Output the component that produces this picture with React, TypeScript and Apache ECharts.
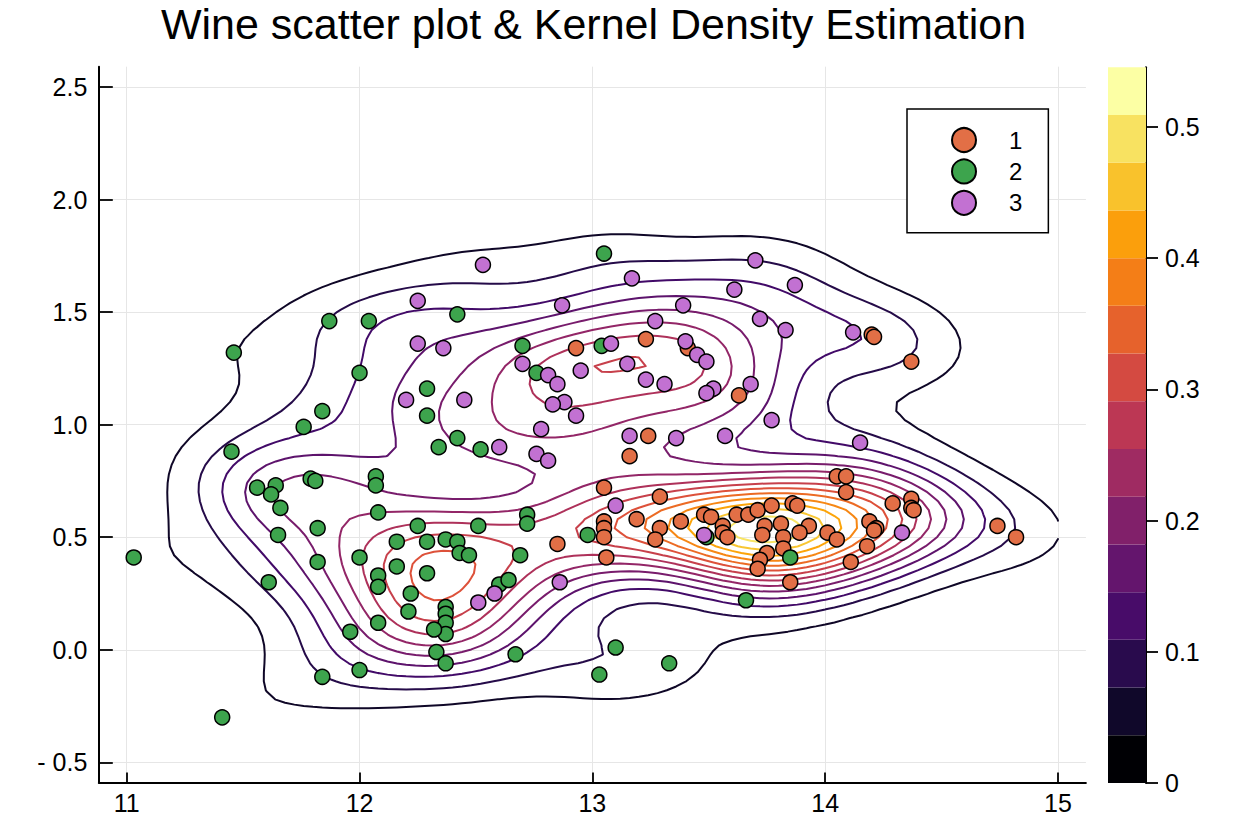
import React, { useEffect, useRef } from "react";
import * as echarts from "echarts";

// Alcohol vs log(malic acid) for the three wine cultivars
const cultivar1: [number, number][] = [
  [12.93, 1.34], [13.23, 1.38], [13.41, 1.34], [13.63, 1.13], [13.24, 0.95], [13.16, 0.86],
  [14.05, 0.77], [14.09, 0.77], [14.09, 0.70], [13.05, 0.72], [13.29, 0.68], [13.19, 0.58],
  [13.05, 0.57], [13.05, 0.54], [13.05, 0.50], [12.85, 0.47], [13.06, 0.41], [13.29, 0.54],
  [13.27, 0.49], [13.38, 0.57], [13.48, 0.60], [13.51, 0.59], [13.56, 0.55], [13.56, 0.52],
  [13.58, 0.50], [13.62, 0.60], [13.67, 0.60], [13.71, 0.62], [13.77, 0.64], [13.86, 0.65],
  [13.88, 0.64], [13.74, 0.55], [13.73, 0.51], [13.81, 0.56], [13.93, 0.55], [13.89, 0.52],
  [13.82, 0.50], [14.01, 0.52], [14.05, 0.49], [13.82, 0.45], [13.75, 0.43], [13.72, 0.40],
  [13.71, 0.36], [13.85, 0.30], [14.11, 0.39], [14.29, 0.65], [14.37, 0.67], [14.37, 0.63],
  [14.38, 0.62], [14.19, 0.57], [14.22, 0.54], [14.21, 0.53], [14.18, 0.46], [14.74, 0.55],
  [14.82, 0.50], [14.20, 1.40], [14.21, 1.39], [14.37, 1.28],
];

const cultivar2: [number, number][] = [
  [11.87, 1.46], [12.04, 1.46], [11.46, 1.32], [12.00, 1.23], [11.84, 1.06], [11.76, 0.99],
  [11.45, 0.88], [11.79, 0.76], [11.81, 0.75], [12.07, 0.77], [12.07, 0.73], [11.56, 0.72],
  [11.64, 0.73], [11.62, 0.69], [11.66, 0.63], [11.82, 0.54], [12.08, 0.61], [11.65, 0.51],
  [12.16, 0.48], [11.03, 0.41], [12.00, 0.41], [11.82, 0.39], [12.16, 0.37], [12.08, 0.33],
  [12.08, 0.28], [11.61, 0.30], [12.08, 0.12], [11.96, 0.08], [12.00, -0.09], [11.84, -0.12],
  [11.41, -0.30], [13.05, 1.76], [12.42, 1.49], [12.70, 1.35], [13.04, 1.35], [12.76, 1.23],
  [12.29, 1.16], [12.29, 1.04], [12.42, 0.94], [12.34, 0.90], [12.52, 0.89], [12.72, 0.60],
  [12.72, 0.56], [12.25, 0.55], [12.51, 0.55], [12.98, 0.51], [12.29, 0.48], [12.37, 0.49],
  [12.42, 0.48], [12.43, 0.43], [12.47, 0.42], [12.69, 0.42], [12.29, 0.34], [12.22, 0.25],
  [12.60, 0.29], [12.64, 0.31], [12.21, 0.17], [12.37, 0.19], [12.37, 0.16], [12.37, 0.12],
  [12.37, 0.07], [12.32, 0.09], [12.33, -0.01], [12.37, -0.06], [12.67, -0.02], [13.10, 0.01],
  [13.03, -0.11], [13.33, -0.06], [13.49, 0.50], [13.85, 0.41], [13.66, 0.22],
];

const cultivar3: [number, number][] = [
  [12.53, 1.71], [12.25, 1.55], [12.87, 1.53], [12.25, 1.36], [12.36, 1.34], [13.08, 1.36],
  [12.70, 1.27], [12.81, 1.22], [12.95, 1.24], [12.85, 1.18], [12.20, 1.11], [12.45, 1.11],
  [12.88, 1.10], [12.83, 1.09], [12.93, 1.04], [12.78, 0.98], [12.60, 0.90], [12.76, 0.87],
  [12.81, 0.84], [13.10, 0.64], [12.58, 0.25], [12.86, 0.30], [12.51, 0.21], [13.70, 1.73],
  [13.17, 1.65], [13.61, 1.60], [13.87, 1.62], [13.39, 1.53], [13.72, 1.47], [13.27, 1.46],
  [13.83, 1.42], [14.12, 1.41], [13.40, 1.37], [13.45, 1.31], [13.49, 1.28], [13.15, 1.27],
  [13.23, 1.20], [13.31, 1.18], [13.68, 1.18], [13.52, 1.16], [13.49, 1.14], [13.77, 1.02],
  [13.16, 0.95], [13.36, 0.94], [13.57, 0.95], [14.15, 0.92], [13.48, 0.51], [14.33, 0.52],
];

const seriesNames = ["1", "2", "3"];
const seriesColors = ["#e26f46", "#3da44d", "#c271d2"];

const xTicks = [11, 12, 13, 14, 15];
const yTicks = [-0.5, 0, 0.5, 1, 1.5, 2, 2.5];
const colorbarTicks = [0, 0.1, 0.2, 0.3, 0.4, 0.5];

// density evaluation window and contour levels
const kdeXRange = [11, 15];
const kdeYRange = [-0.5, 2.5];
const kdeStep = 0.04;
const densityMax = 0.5455;
const bandCount = 15;

const FONT = "'Liberation Sans', Arial, Helvetica, sans-serif";

const infernoStops = [
  "#000004", "#160b39", "#420a68", "#6a176e", "#932667", "#bc3754",
  "#dd513a", "#f37819", "#fca50a", "#f6d746", "#fcffa4",
];

function inferno(t: number): string {
  const c = Math.max(0, Math.min(1, t)) * (infernoStops.length - 1);
  const i = Math.min(Math.floor(c), infernoStops.length - 2);
  const f = c - i;
  const a = parseInt(infernoStops[i].slice(1), 16);
  const b = parseInt(infernoStops[i + 1].slice(1), 16);
  const ch = (s: number) => {
    const va = (a >> s) & 255;
    const vb = (b >> s) & 255;
    return Math.round(va + (vb - va) * f);
  };
  return `rgb(${ch(16)},${ch(8)},${ch(0)})`;
}

// Silverman-style rule of thumb bandwidth
function bandwidth(v: number[]): number {
  const n = v.length;
  const mean = v.reduce((a, b) => a + b, 0) / n;
  const sd = Math.sqrt(v.reduce((a, b) => a + (b - mean) ** 2, 0) / (n - 1));
  const s = [...v].sort((a, b) => a - b);
  const q = (p: number) => {
    const h = (n - 1) * p;
    const lo = Math.floor(h);
    return s[lo] + (h - lo) * (s[Math.min(lo + 1, n - 1)] - s[lo]);
  };
  const iqr = q(0.75) - q(0.25);
  return 0.9 * Math.min(sd, iqr / 1.34) * Math.pow(n, -0.2);
}

function densityGrid() {
  const pts = [...cultivar1, ...cultivar2, ...cultivar3];
  const hx = bandwidth(pts.map((p) => p[0]));
  const hy = bandwidth(pts.map((p) => p[1]));
  const xs: number[] = [];
  const ys: number[] = [];
  const nx = Math.round((kdeXRange[1] - kdeXRange[0]) / kdeStep);
  const ny = Math.round((kdeYRange[1] - kdeYRange[0]) / kdeStep);
  for (let i = 0; i <= nx; i++) xs.push(kdeXRange[0] + i * kdeStep);
  for (let j = 0; j <= ny; j++) ys.push(kdeYRange[0] + j * kdeStep);
  const norm = 1 / (pts.length * 2 * Math.PI * hx * hy);
  const z = ys.map((y) =>
    xs.map((x) => {
      let s = 0;
      for (const [px, py] of pts) {
        const u = (x - px) / hx;
        const w = (y - py) / hy;
        s += Math.exp(-0.5 * (u * u + w * w));
      }
      return s * norm;
    })
  );
  return { xs, ys, z };
}

// marching squares, joined into polylines
function contour(xs: number[], ys: number[], z: number[][], level: number): number[][][] {
  const pts = new Map<string, number[]>();
  const adj = new Map<string, string[]>();
  const link = (a: string, b: string) => {
    if (!adj.has(a)) adj.set(a, []);
    if (!adj.has(b)) adj.set(b, []);
    adj.get(a)!.push(b);
    adj.get(b)!.push(a);
  };
  const cross = (key: string, x1: number, y1: number, z1: number, x2: number, y2: number, z2: number) => {
    if (!pts.has(key)) {
      const t = (level - z1) / (z2 - z1);
      pts.set(key, [x1 + t * (x2 - x1), y1 + t * (y2 - y1)]);
    }
    return key;
  };
  for (let j = 0; j < ys.length - 1; j++) {
    for (let i = 0; i < xs.length - 1; i++) {
      const a = z[j][i], b = z[j][i + 1], c = z[j + 1][i + 1], d = z[j + 1][i];
      const ia = a >= level, ib = b >= level, ic = c >= level, id = d >= level;
      const B = ia !== ib ? cross(`h${i}_${j}`, xs[i], ys[j], a, xs[i + 1], ys[j], b) : null;
      const R = ib !== ic ? cross(`v${i + 1}_${j}`, xs[i + 1], ys[j], b, xs[i + 1], ys[j + 1], c) : null;
      const T = id !== ic ? cross(`h${i}_${j + 1}`, xs[i], ys[j + 1], d, xs[i + 1], ys[j + 1], c) : null;
      const L = ia !== id ? cross(`v${i}_${j}`, xs[i], ys[j], a, xs[i], ys[j + 1], d) : null;
      const list = [B, R, T, L].filter((k) => k !== null) as string[];
      if (list.length === 2) link(list[0], list[1]);
      else if (list.length === 4) {
        const centre = (a + b + c + d) / 4 >= level;
        const isolateBD = ia ? centre : !centre;
        if (isolateBD) {
          link(B!, R!);
          link(L!, T!);
        } else {
          link(B!, L!);
          link(R!, T!);
        }
      }
    }
  }
  const seen = new Set<string>();
  const walk = (start: string) => {
    const path = [start];
    seen.add(start);
    let cur = start;
    for (;;) {
      const nb = (adj.get(cur) || []).find((k) => !seen.has(k));
      if (!nb) break;
      seen.add(nb);
      path.push(nb);
      cur = nb;
    }
    return path;
  };
  const out: string[][] = [];
  for (const [k, v] of adj) if (v.length === 1 && !seen.has(k)) out.push(walk(k));
  for (const k of adj.keys()) {
    if (!seen.has(k)) {
      const p = walk(k);
      p.push(p[0]);
      out.push(p);
    }
  }
  return out.map((p) => p.map((k) => pts.get(k)!));
}

export default function App() {
  const ref = useRef<HTMLDivElement>(null);

  useEffect(() => {
    if (!ref.current) return;
    const chart = echarts.init(ref.current, undefined, { renderer: "svg" });
    const { xs, ys, z } = densityGrid();
    const step = densityMax / bandCount;

    const contourSeries: any[] = [];
    for (let k = 1; k < bandCount; k++) {
      const lines = contour(xs, ys, z, k * step);
      contourSeries.push({
        type: "lines",
        coordinateSystem: "cartesian2d",
        xAxisIndex: 0,
        yAxisIndex: 0,
        polyline: true,
        silent: true,
        lineStyle: { color: inferno(k / bandCount), width: 2, opacity: 1, cap: "round", join: "round" },
        data: lines.map((c) => ({ coords: c })),
        z: 1,
      });
    }

    const scatterSeries = [cultivar1, cultivar2, cultivar3].map((d, i) => ({
      type: "scatter",
      name: seriesNames[i],
      xAxisIndex: 0,
      yAxisIndex: 0,
      data: d,
      symbol: "circle",
      symbolSize: 15,
      itemStyle: { color: seriesColors[i], borderColor: "#000", borderWidth: 1.5, opacity: 1 },
      z: 3,
    }));

    const bandSeries = Array.from({ length: bandCount }, (_, k) => ({
      type: "bar",
      xAxisIndex: 1,
      yAxisIndex: 1,
      stack: "colorbar",
      barWidth: "100%",
      silent: true,
      data: [step],
      itemStyle: { color: inferno(k / (bandCount - 1)) },
    }));

    const axisText = { color: "#000", fontSize: 25, fontFamily: FONT };

    chart.setOption({
      animation: false,
      backgroundColor: "#fff",
      title: {
        text: "Wine scatter plot & Kernel Density Estimation",
        left: 593.5,
        top: 2,
        padding: 0,
        textAlign: "center",
        textStyle: { color: "#000", fontSize: 43, fontWeight: "normal", fontFamily: FONT },
      },
      legend: {
        data: seriesNames,
        orient: "vertical",
        left: 907,
        top: 109,
        icon: "circle",
        itemWidth: 24,
        itemHeight: 24,
        itemGap: 5.4,
        padding: [18, 26, 17, 44],
        borderColor: "#000",
        borderWidth: 1.5,
        backgroundColor: "#fff",
        selectedMode: false,
        textStyle: { ...axisText, fontSize: 24, padding: [0, 0, 0, 28] },
      },
      grid: [
        { left: 98.8, top: 66.7, width: 987.1, height: 715.9, outerBoundsMode: "none" },
        { left: 1108, top: 67.3, width: 38, height: 715.7, outerBoundsMode: "none" },
      ],
      xAxis: [
        {
          type: "value",
          gridIndex: 0,
          min: 10.88,
          max: 15.12,
          axisLine: { show: true, onZero: false, lineStyle: { color: "#000", width: 2 } },
          axisTick: { show: true, inside: true, length: 10, customValues: xTicks, lineStyle: { color: "#000", width: 1.8 } },
          axisLabel: { ...axisText, margin: 8, customValues: xTicks, formatter: (v: number) => String(v) },
          splitLine: { show: true, lineStyle: { color: "#e6e6e6", width: 1 } },
        },
        { type: "category", gridIndex: 1, data: ["c"], show: false },
      ],
      yAxis: [
        {
          type: "value",
          gridIndex: 0,
          min: -0.59,
          max: 2.59,
          axisLine: { show: true, onZero: false, lineStyle: { color: "#000", width: 2 } },
          axisTick: { show: true, inside: true, length: 14, customValues: yTicks, lineStyle: { color: "#000", width: 1.8 } },
          axisLabel: {
            ...axisText,
            margin: 11.5,
            customValues: yTicks,
            formatter: (v: number) => (v < 0 ? "- " + Math.abs(v).toFixed(1) : v.toFixed(1)),
          },
          splitLine: { show: true, lineStyle: { color: "#e6e6e6", width: 1 } },
        },
        {
          type: "value",
          gridIndex: 1,
          position: "right",
          min: 0,
          max: densityMax,
          axisLine: { show: true, onZero: false, lineStyle: { color: "#000", width: 2 } },
          axisTick: { show: true, inside: false, length: 12, customValues: colorbarTicks, lineStyle: { color: "#000", width: 1.8 } },
          axisLabel: {
            ...axisText,
            margin: 19,
            customValues: colorbarTicks,
            formatter: (v: number) => (v === 0 ? "0" : v.toFixed(1)),
          },
          splitLine: { show: false },
        },
      ],
      series: [...contourSeries, ...scatterSeries, ...bandSeries],
    });

    return () => chart.dispose();
  }, []);

  return (
    <div
      ref={ref}
      style={{ position: "fixed", left: 0, top: 0, width: 1250, height: 834, background: "#fff" }}
    />
  );
}
